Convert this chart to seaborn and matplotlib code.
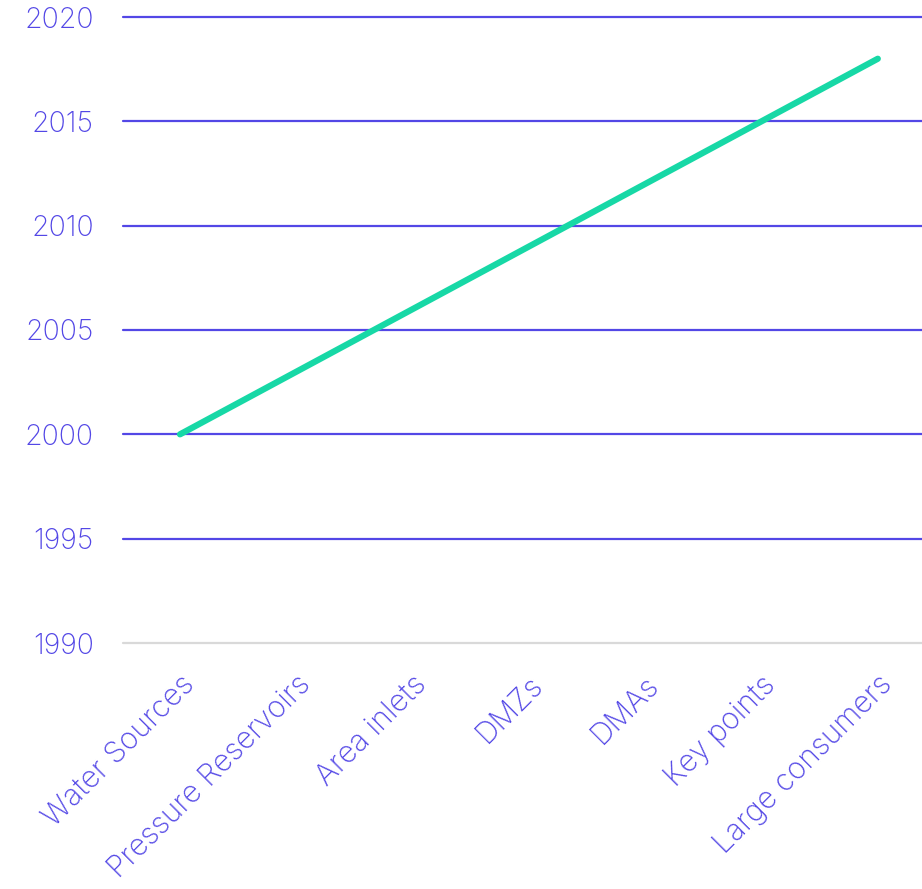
import pandas as pd
import seaborn as sns
import matplotlib.pyplot as plt

stages = ['Water Sources', 'Pressure Reservoirs', 'Area inlets', 'DMZs',
          'DMAs', 'Key points', 'Large consumers']
years = [2000, 2003, 2006, 2009, 2012, 2015, 2018]
yticks = [1990, 1995, 2000, 2005, 2010, 2015, 2020]

purple = '#5347e6'
teal = '#17d8a6'

sns.set_theme(style='white')
plt.rcParams['font.family'] = ['Inter', 'DejaVu Sans']

df = pd.DataFrame({'stage': stages, 'year': years})

fig = plt.figure(figsize=(9.22, 8.89), dpi=100)
ax = fig.add_axes([123 / 922, 246 / 889, 799 / 922, 626 / 889])

for y in yticks[1:]:
    ax.axhline(y, color=purple, lw=1.6, zorder=1, clip_on=False)
ax.axhline(1990, color='#d9d9d9', lw=1.6, zorder=1, clip_on=False)

sns.lineplot(data=df, x='stage', y='year', sort=False, color=teal,
             linewidth=4.5, solid_capstyle='round', ax=ax, zorder=3)

ax.set_xlim(-0.49, 6.38)
ax.set_ylim(1990, 2020)
ax.set_yticks(yticks)
ax.set_xlabel('')
ax.set_ylabel('')
sns.despine(ax=ax, left=True, bottom=True)
ax.tick_params(axis='y', length=0, pad=21, labelsize=20.5, labelcolor=purple)
ax.tick_params(axis='x', length=0, pad=20, labelsize=21.5, labelcolor=purple)
for lab in ax.get_xticklabels() + ax.get_yticklabels():
    lab.set_fontweight('light')
for lab in ax.get_xticklabels():
    lab.set_rotation(45)
    lab.set_ha('right')
    lab.set_rotation_mode('anchor')

fig.savefig('out.png', dpi=100)
